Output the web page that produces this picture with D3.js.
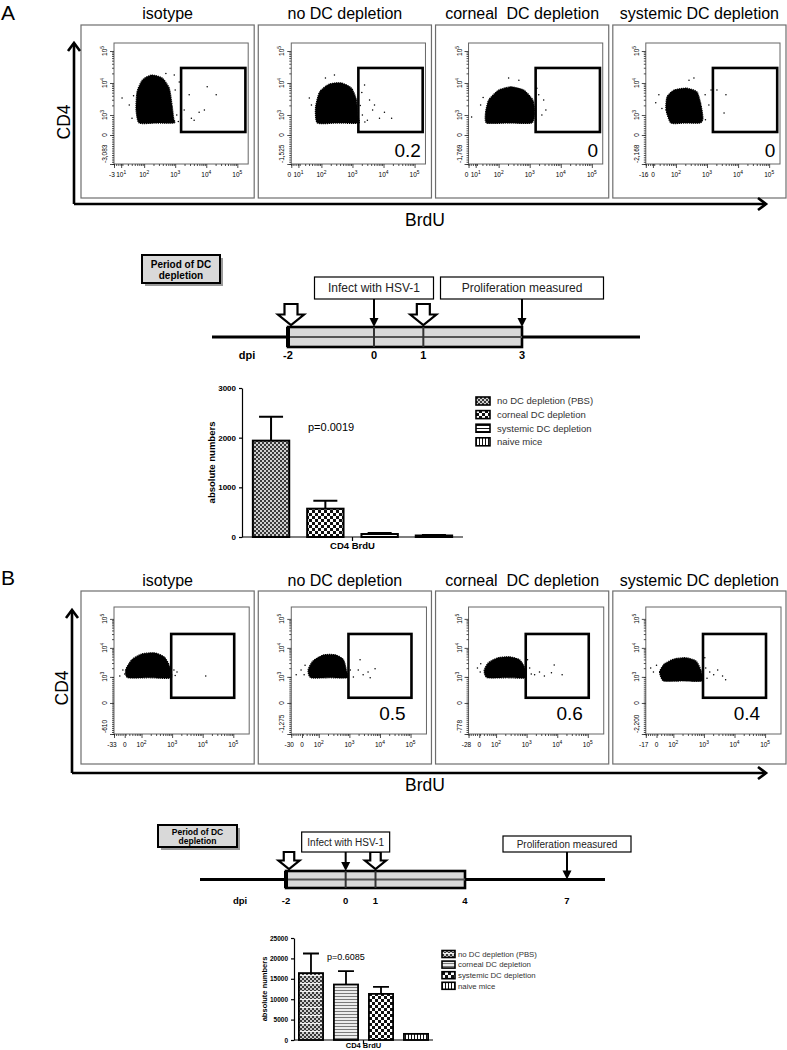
<!DOCTYPE html>
<html>
<head>
<meta charset="utf-8">
<title>DC depletion and CD4 T cell proliferation</title>
<script src="https://cdn.jsdelivr.net/npm/d3@7"></script>
<style>
  body { margin: 0; background: #fff; }
  svg { font-family: "Liberation Sans", Arial, sans-serif; }
</style>
</head>
<body>
<svg id="fig" width="787" height="1050"></svg>
<script>
// ===== data =====
const plotTitles = ["isotype", "no DC depletion", "corneal  DC depletion", "systemic DC depletion"];

// flow plots, panel A (values in log10 decade units)
const gateValuesA = ["", "0.2", "0", "0"];
const yMinLabelsA = ["-3,083", "-1,525", "-1,769", "-2,168"];
const xLowLabelsA = [["-3", "10^1"], ["0", "10^1"], ["0", "10^1"], ["-16", "0"]];
const cloudsA = [
  [[1.84,2.75],[1.74,3.16],[1.77,3.72],[1.94,4.09],[2.23,4.25],[2.58,4.16],[2.81,3.84],[2.9,3.31],[2.95,2.9],[2.97,2.75],[2.4,2.75]],
  [[1.87,2.75],[1.81,3.22],[1.94,3.72],[2.26,3.97],[2.65,4.0],[2.97,3.84],[3.13,3.47],[3.16,3.0],[3.2,2.75],[2.5,2.75]],
  [[1.61,2.75],[1.58,3.09],[1.68,3.47],[2.0,3.78],[2.39,3.88],[2.81,3.78],[3.1,3.47],[3.16,3.09],[3.06,2.75],[2.3,2.75]],
  [[1.84,2.75],[1.68,3.16],[1.71,3.56],[1.94,3.78],[2.35,3.84],[2.68,3.72],[2.81,3.31],[2.87,2.9],[2.78,2.75],[2.3,2.75]]
];
const dotsA = [
  [[1.29,3.53],[1.52,3.31],[1.61,2.9],[1.66,3.6],[3.0,3.78],[3.05,3.0],[3.1,2.8],[3.2,2.85],[3.29,3.16],[3.45,3.63],[3.52,2.9],[3.77,3.09],[4.03,3.88],[4.32,3.63],[3.94,3.16],[3.61,2.84],[3.13,4.03],[2.97,4.25],[2.7,4.3]],
  [[3.39,3.94],[3.55,3.47],[3.65,3.16],[3.32,3.0],[3.48,2.84],[3.71,3.31],[3.87,2.9],[4.03,3.09],[4.26,2.9],[1.61,3.53],[1.68,3.31],[2.13,4.16],[2.42,4.25],[3.3,3.7],[3.25,3.3],[3.4,2.78]],
  [[1.13,2.94],[1.42,3.31],[1.5,3.55],[2.65,4.09],[2.32,4.16],[3.29,3.63],[3.45,3.47],[3.39,3.0],[3.52,3.16],[3.23,3.84],[3.2,2.85]],
  [[1.35,3.38],[1.45,3.63],[1.55,3.2],[2.42,4.09],[2.58,4.16],[2.94,3.63],[3.06,3.31],[3.13,3.78],[3.32,3.78],[3.61,3.63],[3.55,3.06],[2.95,2.85]]
];

// flow plots, panel B
const gateValuesB = ["", "0.5", "0.6", "0.4"];
const yMinLabelsB = ["-610", "-1,275", "-778", "-2,200"];
const xLowLabelsB = [["-33", "0"], ["-30", "0"], ["-28", "0"], ["-17", "0"]];
const cloudsB = [
  [[1.55,2.97],[1.48,3.24],[1.68,3.59],[2.0,3.79],[2.42,3.83],[2.74,3.69],[2.9,3.41],[2.97,2.97],[2.25,2.97]],
  [[1.74,2.97],[1.65,3.24],[1.81,3.55],[2.16,3.76],[2.55,3.76],[2.81,3.59],[2.9,3.24],[2.94,2.97],[2.35,2.97]],
  [[1.71,2.97],[1.61,3.21],[1.74,3.48],[2.06,3.66],[2.45,3.69],[2.77,3.59],[2.94,3.31],[2.97,2.97],[2.35,2.97]],
  [[1.68,2.86],[1.55,3.17],[1.71,3.45],[2.03,3.62],[2.42,3.66],[2.74,3.55],[2.9,3.24],[2.94,2.86],[2.3,2.86]]
];
const dotsB = [
  [[1.29,3.03],[1.39,3.24],[1.45,3.1],[3.06,3.24],[3.16,3.17],[2.97,3.59],[3.1,3.05],[4.1,3.03]],
  [[1.26,3.07],[1.42,3.24],[1.52,3.07],[1.55,3.4],[3.03,3.24],[3.13,3.0],[3.29,3.24],[3.45,3.07],[3.61,3.17],[3.84,3.28],[3.35,3.59],[3.68,2.97]],
  [[1.39,3.31],[1.48,3.17],[1.5,3.45],[3.1,3.31],[3.26,3.07],[3.42,3.17],[3.58,3.03],[3.81,3.14],[3.9,3.41],[4.16,3.07],[3.03,3.59],[3.15,3.1]],
  [[1.35,3.17],[1.26,3.31],[1.45,3.4],[3.06,3.31],[3.19,3.17],[3.32,3.07],[3.45,3.24],[3.61,3.03],[3.71,2.9],[3.03,3.66],[3.1,2.95]]
];
const decadeLabels = ["10^2", "10^3", "10^4", "10^5"];
const yDecadeLabels = ["0", "10^3", "10^4", "10^5"];

// timelines (days post infection)
const dpiA = [-2, 0, 1, 3];
const depletionA = [-2, 3];
const injectionsA = [-2, 1];
const eventLabelsA = ["Infect with HSV-1", "Proliferation measured"];
const eventDaysA = [0, 3];

const dpiB = [-2, 0, 1, 4, 7];
const depletionB = [-2, 4];
const injectionsB = [-2, 1];
const eventLabelsB = ["Infect with HSV-1", "Proliferation measured"];
const eventDaysB = [0, 7];

// bar charts
const groups = ["no DC depletion (PBS)", "corneal DC depletion", "systemic DC depletion", "naive mice"];
const meansA = [1940, 570, 60, 30];
const errorsA = [480, 160, 20, 12];
const yTicksA = [0, 1000, 2000, 3000];
const pValueA = "p=0.0019";

const meansB = [16400, 13600, 11300, 1500];
const errorsB = [4800, 3300, 1700, 0];
const yTicksB = [0, 5000, 10000, 15000, 20000, 25000];
const pValueB = "p=0.6085";

// ===== drawing =====
const svg = d3.select("#fig");
svg.append("rect").attr("width", 787).attr("height", 1050).attr("fill", "#fff");

const defs = svg.append("defs");
function pattern(id, w, h, bg, rects) {
  const p = defs.append("pattern").attr("id", id)
    .attr("patternUnits", "userSpaceOnUse").attr("width", w).attr("height", h);
  p.append("rect").attr("width", w).attr("height", h).attr("fill", bg);
  rects.forEach(r => p.append("rect").attr("x", r[0]).attr("y", r[1])
    .attr("width", r[2]).attr("height", r[3]).attr("fill", r[4]));
}
pattern("fineCheck", 4, 4, "#cfcfcf", [[0,0,2,2,"#3a3a3a"],[2,2,2,2,"#3a3a3a"]]);
pattern("fineCheckStripe", 4, 8, "#cfcfcf", [[0,0,2,2,"#3a3a3a"],[2,2,2,2,"#3a3a3a"],[0,4,2,2,"#3a3a3a"],[2,6,2,1,"#3a3a3a"],[0,7,4,1,"#f2f2f2"]]);
pattern("coarseCheck", 6, 6, "#fff", [[0,0,3,3,"#111"],[3,3,3,3,"#111"]]);
pattern("hLines", 4, 3, "#fff", [[0,0,4,1,"#111"]]);
pattern("hLinesGray", 4, 3, "#ececec", [[0,0,4,1,"#7a7a7a"]]);
pattern("vLines", 3, 4, "#fff", [[0,0,1,4,"#111"]]);

function powText(sel, str, fs) {
  const parts = str.split("^");
  sel.text(parts[0]);
  if (parts[1]) sel.append("tspan").attr("dy", -fs * 0.45).attr("font-size", fs * 0.75).text(parts[1]);
}

// ---- flow cytometry rows ----
function drawFlowRow(cfg) {
  const band = d3.scaleBand().domain(plotTitles).range([81, 786]).paddingInner(0.023);
  plotTitles.forEach((title, i) => {
    const x0 = band(title), w = band.bandwidth();
    const g = svg.append("g");
    g.append("rect").attr("x", x0).attr("y", cfg.top).attr("width", w)
      .attr("height", cfg.bottom - cfg.top)
      .attr("fill", "none").attr("stroke", "#6e6e6e").attr("stroke-width", 1.2);
    g.append("text").attr("x", x0 + w / 2).attr("y", cfg.titleY)
      .attr("text-anchor", "middle").attr("font-size", 16)
      .style("white-space", "pre").text(title);

    const xs = d3.scaleLinear().domain(cfg.xDom).range([x0 + 33, x0 + w - cfg.padRight]);
    const ys = d3.scaleLinear().domain(cfg.yDom).range([cfg.innerBottom, cfg.innerTop]);
    const [ix0, ix1] = xs.range();

    // inner frame
    g.append("rect").attr("x", ix0).attr("y", cfg.innerTop)
      .attr("width", ix1 - ix0).attr("height", cfg.innerBottom - cfg.innerTop)
      .attr("fill", "none").attr("stroke", "#666").attr("stroke-width", 1);

    // cloud + scattered events
    const line = d3.line().x(d => xs(d[0])).y(d => ys(d[1])).curve(d3.curveCardinalClosed.tension(0.4));
    g.append("path").attr("d", line(cfg.clouds[i]))
      .attr("fill", "#000").attr("stroke", "#000").attr("stroke-width", 1.2)
      .attr("stroke-dasharray", "1.2,0.8");
    g.selectAll(null).data(cfg.dots[i]).join("circle")
      .attr("cx", d => xs(d[0])).attr("cy", d => ys(d[1])).attr("r", 0.75).attr("fill", "#000");

    // ticks
    const logMinor = [];
    [1, 2, 3, 4].forEach(dec => d3.range(2, 10).forEach(k => logMinor.push(dec + Math.log10(k))));
    const xMinor = logMinor.filter(v => v > cfg.xLow && v < cfg.xDom[1])
      .concat(d3.range(cfg.xDom[0], cfg.xLow, 0.07));
    const xMajor = [cfg.xDom[0], cfg.xLow, 2, 3, 4, 5];
    const yMinor = logMinor.filter(v => v > 3 && v < cfg.yDom[1])
      .concat(d3.range(cfg.yDom[0], 3, 0.07));
    const yMajor = [cfg.yDom[0], cfg.yZero, 3, 4, 5];

    const ax = g.append("g").attr("transform", `translate(0,${cfg.innerBottom})`);
    ax.call(d3.axisBottom(xs).tickValues(xMinor).tickSize(2).tickFormat(""));
    ax.append("g").call(d3.axisBottom(xs).tickValues(xMajor).tickSize(4).tickFormat(""));
    const ay = g.append("g").attr("transform", `translate(${ix0},0)`);
    ay.call(d3.axisLeft(ys).tickValues(yMinor).tickSize(2).tickFormat(""));
    ay.append("g").call(d3.axisLeft(ys).tickValues(yMajor).tickSize(4).tickFormat(""));
    g.selectAll(".domain").remove();
    g.selectAll(".tick line").attr("stroke", "#222").attr("stroke-width", 0.8);

    // x tick labels
    const fs = 6.5;
    const xLabels = cfg.xLow0[i].concat(decadeLabels);
    xMajor.forEach((v, k) => {
      const t = g.append("text").attr("x", xs(v) + (k === 0 ? -2 : 0)).attr("y", cfg.innerBottom + 13)
        .attr("text-anchor", "middle").attr("font-size", fs);
      powText(t, xLabels[k], fs);
    });
    // y tick labels (rotated)
    const yLabels = [cfg.yMin[i]].concat(yDecadeLabels);
    yMajor.forEach((v, k) => {
      const yy = k === 0 ? ys(v) - 1 : ys(v);
      const t = g.append("text")
        .attr("transform", `translate(${ix0 - 7},${yy}) rotate(-90)`)
        .attr("text-anchor", k === 0 ? "start" : "middle").attr("font-size", fs);
      powText(t, yLabels[k], fs);
    });

    // gate
    const gt = cfg.gate;
    g.append("rect").attr("x", xs(gt[0])).attr("y", ys(gt[3]))
      .attr("width", xs(gt[1]) - xs(gt[0])).attr("height", ys(gt[2]) - ys(gt[3]))
      .attr("fill", "none").attr("stroke", "#000").attr("stroke-width", 2.6);
    if (cfg.gateValues[i]) {
      g.append("text").attr("x", xs(cfg.labelPos[0])).attr("y", ys(cfg.labelPos[1]))
        .attr("text-anchor", "end").attr("font-size", 19).text(cfg.gateValues[i]);
    }
  });

  // CD4 / BrdU arrows
  const a = cfg.arrows;
  const ga = svg.append("g").attr("stroke", "#000").attr("stroke-width", 2.6).attr("fill", "none");
  ga.append("path").attr("d", `M${a.x},${a.yBase}V${a.yTop}M${a.x},${a.yBase}H${a.xEnd}`);
  ga.append("path").attr("d", `M${a.x - 6},${a.yTop + 8}L${a.x},${a.yTop}L${a.x + 6},${a.yTop + 8}`);
  ga.append("path").attr("d", `M${a.xEnd - 8},${a.yBase - 6}L${a.xEnd},${a.yBase}L${a.xEnd - 8},${a.yBase + 6}`);
  svg.append("text").attr("transform", `translate(${a.x - 4},${a.cd4Y}) rotate(-90)`)
    .attr("text-anchor", "middle").attr("font-size", 17.5).text("CD4");
  svg.append("text").attr("x", 425).attr("y", a.brduY)
    .attr("text-anchor", "middle").attr("font-size", 17.5).text("BrdU");
  svg.append("text").attr("x", 1).attr("y", cfg.letterY).attr("font-size", 21).text(cfg.letter);
}

// ---- timelines ----
function openArrow(g, cx, tip, w, h) {
  const hw = w / 2, sw = w / 4, hh = h * 0.5;
  g.append("path")
    .attr("d", `M${cx - sw},${tip - h}H${cx + sw}V${tip - hh}H${cx + hw}L${cx},${tip}L${cx - hw},${tip - hh}H${cx - sw}Z`)
    .attr("fill", "#fff").attr("stroke", "#000").attr("stroke-width", 2.2).attr("stroke-linejoin", "miter");
}
function thinArrow(g, x, y1, y2) {
  g.append("line").attr("x1", x).attr("x2", x).attr("y1", y1).attr("y2", y2 - 7)
    .attr("stroke", "#000").attr("stroke-width", 2);
  g.append("path").attr("d", `M${x - 4.5},${y2 - 9}L${x + 4.5},${y2 - 9}L${x},${y2}Z`).attr("fill", "#000");
}

function drawTimeline(cfg) {
  const day = d3.scaleLinear().domain(cfg.dayDom).range(cfg.dayRange);
  const g = svg.append("g");
  const midY = (cfg.barTop + cfg.barBottom) / 2;

  // period box with shadow
  const pb = cfg.periodBox;
  g.append("rect").attr("x", pb[0] + 3).attr("y", pb[1] + 3).attr("width", pb[2]).attr("height", pb[3]).attr("fill", "#9a9a9a");
  g.append("rect").attr("x", pb[0]).attr("y", pb[1]).attr("width", pb[2]).attr("height", pb[3])
    .attr("fill", "#d9d9d9").attr("stroke", "#000").attr("stroke-width", 2);
  const pt = g.append("text").attr("x", pb[0] + pb[2] / 2).attr("y", pb[1] + pb[3] / 2 - cfg.periodFs * 0.15)
    .attr("text-anchor", "middle").attr("font-size", cfg.periodFs).attr("font-weight", "bold");
  pt.append("tspan").attr("x", pb[0] + pb[2] / 2).text("Period of DC");
  pt.append("tspan").attr("x", pb[0] + pb[2] / 2).attr("dy", cfg.periodFs * 1.1).text("depletion");

  // main line
  g.append("line").attr("x1", cfg.lineX[0]).attr("x2", cfg.lineX[1]).attr("y1", midY).attr("y2", midY)
    .attr("stroke", "#000").attr("stroke-width", 3);

  // depletion bar
  const bx0 = day(cfg.depletion[0]), bx1 = day(cfg.depletion[1]);
  g.append("rect").attr("x", bx0).attr("y", cfg.barTop).attr("width", bx1 - bx0)
    .attr("height", cfg.barBottom - cfg.barTop)
    .attr("fill", "#d9d9d9").attr("stroke", "#000").attr("stroke-width", 2.6);
  g.append("line").attr("x1", bx0).attr("x2", bx1).attr("y1", midY).attr("y2", midY)
    .attr("stroke", "#555").attr("stroke-width", 2);
  g.append("rect").attr("x", bx0 - 2).attr("y", cfg.barTop).attr("width", 4)
    .attr("height", cfg.barBottom - cfg.barTop).attr("fill", "#000");
  cfg.dpi.filter(d => d > cfg.depletion[0] && d < cfg.depletion[1]).forEach(d => {
    g.append("line").attr("x1", day(d)).attr("x2", day(d))
      .attr("y1", cfg.barTop).attr("y2", cfg.barBottom)
      .attr("stroke", "#333").attr("stroke-width", 2);
  });

  // dpi labels
  g.append("text").attr("x", cfg.dpiX).attr("y", cfg.dpiY).attr("text-anchor", "middle")
    .attr("font-size", cfg.dpiFs).attr("font-weight", "bold").text("dpi");
  cfg.dpi.forEach(d => g.append("text").attr("x", day(d)).attr("y", cfg.dpiY)
    .attr("text-anchor", "middle").attr("font-size", cfg.dpiFs).attr("font-weight", "bold").text(d));

  // injections
  cfg.injections.forEach(d => openArrow(g, day(d) + (d === cfg.depletion[0] ? 3 : 0), cfg.barTop - 2, cfg.openW, cfg.openH));

  // events
  cfg.eventLabels.forEach((lab, i) => {
    const cx = day(cfg.eventDays[i]);
    const bw = cfg.eventW[i], eb = cfg.eventBox[i];
    g.append("rect").attr("x", cx - bw / 2).attr("y", eb[0]).attr("width", bw).attr("height", eb[1] - eb[0])
      .attr("fill", "#fff").attr("stroke", "#000").attr("stroke-width", 1.2);
    g.append("text").attr("x", cx).attr("y", (eb[0] + eb[1]) / 2 + cfg.eventFs * 0.36)
      .attr("text-anchor", "middle").attr("font-size", cfg.eventFs).attr("fill", "#222").text(lab);
    const target = cfg.eventDays[i] <= cfg.depletion[1] ? cfg.barTop : midY;
    thinArrow(g, cx, eb[1], target);
  });
}

// ---- bar charts ----
function drawBars(cfg) {
  const x = d3.scaleBand().domain(groups).range(cfg.xRange)
    .paddingInner(cfg.pi).paddingOuter(cfg.po);
  const y = d3.scaleLinear().domain([0, d3.max(cfg.ticks)]).range(cfg.yRange);
  const g = svg.append("g");

  g.selectAll(null).data(groups).join("rect")
    .attr("x", d => x(d)).attr("width", x.bandwidth())
    .attr("y", (d, i) => y(cfg.means[i]))
    .attr("height", (d, i) => y(0) - y(cfg.means[i]))
    .attr("fill", (d, i) => `url(#${cfg.patterns[i]})`)
    .attr("stroke", "#000").attr("stroke-width", cfg.sw);

  const cap = x.bandwidth() * 0.33;
  groups.forEach((d, i) => {
    if (!cfg.errors[i]) return;
    const cx = x(d) + x.bandwidth() / 2;
    g.append("path")
      .attr("d", `M${cx},${y(cfg.means[i])}V${y(cfg.means[i] + cfg.errors[i])}M${cx - cap},${y(cfg.means[i] + cfg.errors[i])}H${cx + cap}`)
      .attr("stroke", "#000").attr("stroke-width", cfg.sw).attr("fill", "none");
  });

  const ay = g.append("g").attr("transform", `translate(${cfg.xRange[0]},0)`)
    .call(d3.axisLeft(y).tickValues(cfg.ticks).tickSize(3).tickSizeOuter(0).tickFormat(d3.format("d")));
  ay.selectAll("text").attr("font-size", cfg.tickFs).attr("font-weight", "bold")
    .attr("font-family", "Liberation Sans, Arial, sans-serif").attr("fill", "#000");
  ay.select(".domain").attr("stroke-width", 1.2);
  ay.selectAll(".tick line").attr("stroke-width", 1.2);

  const mid = (cfg.xRange[0] + cfg.xRange[1]) / 2;
  g.append("path").attr("d", `M${cfg.xRange[0]},${y(0)}H${cfg.xRange[1]}M${mid},${y(0)}v4`)
    .attr("stroke", "#000").attr("stroke-width", 1.2);
  g.append("text").attr("x", mid).attr("y", y(0) + cfg.catDy).attr("text-anchor", "middle")
    .attr("font-size", cfg.labelFs).attr("font-weight", "bold").text("CD4 BrdU");
  g.append("text")
    .attr("transform", `translate(${cfg.yLabelX},${(cfg.yRange[0] + cfg.yRange[1]) / 2}) rotate(-90)`)
    .attr("text-anchor", "middle").attr("font-size", cfg.labelFs).attr("font-weight", "bold")
    .text("absolute numbers");
  g.append("text").attr("x", cfg.pPos[0]).attr("y", cfg.pPos[1]).attr("font-size", cfg.pFs).text(cfg.pValue);

  // legend
  const lg = g.append("g").attr("transform", `translate(${cfg.legend[0]},${cfg.legend[1]})`);
  groups.forEach((d, i) => {
    const yy = i * cfg.legend[2];
    lg.append("rect").attr("x", 0).attr("y", yy - cfg.sh / 2).attr("width", cfg.swW).attr("height", cfg.sh)
      .attr("fill", `url(#${cfg.patterns[i]})`).attr("stroke", "#000").attr("stroke-width", 1.6);
    lg.append("text").attr("x", cfg.legend[3]).attr("y", yy + cfg.legendFs * 0.36)
      .attr("font-size", cfg.legendFs).attr("fill", "#333").text(d);
  });
}

// ===== panel A =====
drawFlowRow({
  letter: "A", letterY: 20,
  top: 25, bottom: 198, titleY: 19, innerTop: 43, innerBottom: 164, padRight: 6,
  xDom: [1.03, 5.35], yDom: [1.47, 5.25], xLow: 1.26, yZero: 2.375,
  xLow0: xLowLabelsA, yMin: yMinLabelsA, clouds: cloudsA, dots: dotsA,
  gate: [3.19, 5.26, 2.47, 4.47], gateValues: gateValuesA, labelPos: [5.2, 1.69],
  arrows: { x: 74, yTop: 43, yBase: 204, xEnd: 766, cd4Y: 122, brduY: 226 }
});
drawTimeline({
  dayDom: [-2, 0, 3], dayRange: [288, 374, 522],
  dpi: dpiA, depletion: depletionA, injections: injectionsA,
  eventLabels: eventLabelsA, eventDays: eventDaysA,
  periodBox: [142, 255, 78, 28], periodFs: 10,
  lineX: [212, 640], barTop: 327, barBottom: 347,
  dpiX: 247, dpiY: 359, dpiFs: 11,
  openW: 26, openH: 21,
  eventW: [119, 163], eventBox: [[277, 299], [277, 299]], eventFs: 12
});
drawBars({
  means: meansA, errors: errorsA, ticks: yTicksA, pValue: pValueA,
  patterns: ["fineCheck", "coarseCheck", "hLines", "vLines"],
  xRange: [242, 463], yRange: [537, 388], pi: 0.33, po: 0.2, sw: 2,
  tickFs: 8, labelFs: 9.5, catDy: 12, yLabelX: 215, pPos: [308, 431], pFs: 11,
  legend: [476, 401, 13.6, 21], swW: 14, sh: 8, legendFs: 9.5
});

// ===== panel B =====
drawFlowRow({
  letter: "B", letterY: 585,
  top: 591, bottom: 764, titleY: 586, innerTop: 607, innerBottom: 734, padRight: 5,
  xDom: [1.1, 5.52], yDom: [1.03, 5.41], xLow: 1.45, yZero: 2.1,
  xLow0: xLowLabelsB, yMin: yMinLabelsB, clouds: cloudsB, dots: dotsB,
  gate: [2.97, 5.03, 2.28, 4.48], gateValues: gateValuesB, labelPos: [4.84, 1.52],
  arrows: { x: 72, yTop: 610, yBase: 773, xEnd: 766, cd4Y: 688, brduY: 791 }
});
drawTimeline({
  dayDom: [-2, 4, 7], dayRange: [286, 465, 567],
  dpi: dpiB, depletion: depletionB, injections: injectionsB,
  eventLabels: eventLabelsB, eventDays: eventDaysB,
  periodBox: [158, 825, 79, 22], periodFs: 8.5,
  lineX: [200, 605], barTop: 871, barBottom: 888,
  dpiX: 240, dpiY: 904, dpiFs: 9.5,
  openW: 21, openH: 17,
  eventW: [88, 128], eventBox: [[832, 852], [836, 852]], eventFs: 10
});
drawBars({
  means: meansB, errors: errorsB, ticks: yTicksB, pValue: pValueB,
  patterns: ["fineCheckStripe", "hLinesGray", "coarseCheck", "vLines"],
  xRange: [294, 433], yRange: [1040, 938], pi: 0.31, po: 0.14, sw: 1.8,
  tickFs: 6.5, labelFs: 7.5, catDy: 8, yLabelX: 267, pPos: [327, 960], pFs: 9,
  legend: [442, 954, 10.6, 16], swW: 13, sh: 7, legendFs: 7.8
});
</script>
</body>
</html>
